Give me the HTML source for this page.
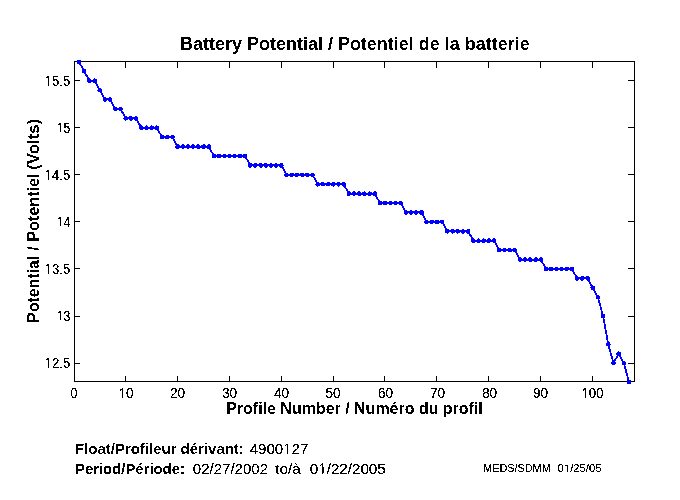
<!DOCTYPE html>
<html><head><meta charset="utf-8"><title>Battery Potential / Potentiel de la batterie</title>
<style>
html,body{margin:0;padding:0;background:#fff;}
body{width:680px;height:500px;overflow:hidden;font-family:"Liberation Sans",sans-serif;}
svg{display:block;font-family:"Liberation Sans",sans-serif;}
.ax rect{fill:#000;stroke:none;shape-rendering:crispEdges;}
text{fill:#000;}
.b{font-weight:bold;}
.h{fill:none;}
.ln{fill:#00f;stroke:none;shape-rendering:crispEdges;}
</style></head><body>
<svg width="680" height="500" viewBox="0 0 680 500">
<defs><filter id="th" x="0" y="0" width="680" height="500" filterUnits="userSpaceOnUse" color-interpolation-filters="sRGB"><feComponentTransfer><feFuncA type="discrete" tableValues="0 0 1 1 1"/></feComponentTransfer></filter>
<filter id="tb" x="0" y="0" width="680" height="500" filterUnits="userSpaceOnUse" color-interpolation-filters="sRGB"><feComponentTransfer><feFuncA type="discrete" tableValues="0 1"/></feComponentTransfer></filter></defs>
<rect x="0" y="0" width="680" height="500" fill="#fff"/>
<g class="ax"><rect x="74" y="376" width="1" height="5"/><rect x="74" y="62" width="1" height="6"/><rect x="125" y="376" width="1" height="5"/><rect x="125" y="62" width="1" height="6"/><rect x="177" y="376" width="1" height="5"/><rect x="177" y="62" width="1" height="6"/><rect x="229" y="376" width="1" height="5"/><rect x="229" y="62" width="1" height="6"/><rect x="281" y="376" width="1" height="5"/><rect x="281" y="62" width="1" height="6"/><rect x="333" y="376" width="1" height="5"/><rect x="333" y="62" width="1" height="6"/><rect x="384" y="376" width="1" height="5"/><rect x="384" y="62" width="1" height="6"/><rect x="436" y="376" width="1" height="5"/><rect x="436" y="62" width="1" height="6"/><rect x="488" y="376" width="1" height="5"/><rect x="488" y="62" width="1" height="6"/><rect x="540" y="376" width="1" height="5"/><rect x="540" y="62" width="1" height="6"/><rect x="592" y="376" width="1" height="5"/><rect x="592" y="62" width="1" height="6"/><rect x="75" y="363" width="5" height="1"/><rect x="628" y="363" width="6" height="1"/><rect x="75" y="316" width="5" height="1"/><rect x="628" y="316" width="6" height="1"/><rect x="75" y="268" width="5" height="1"/><rect x="628" y="268" width="6" height="1"/><rect x="75" y="221" width="5" height="1"/><rect x="628" y="221" width="6" height="1"/><rect x="75" y="174" width="5" height="1"/><rect x="628" y="174" width="6" height="1"/><rect x="75" y="127" width="5" height="1"/><rect x="628" y="127" width="6" height="1"/><rect x="75" y="80" width="5" height="1"/><rect x="628" y="80" width="6" height="1"/><rect x="74" y="61" width="561" height="1"/><rect x="74" y="381" width="561" height="1"/><rect x="74" y="61" width="1" height="321"/><rect x="634" y="61" width="1" height="321"/></g>
<path class="ln" d="M77 60h4v1h-4zM77 61h4v1h-4zM77 62h4v1h-4zM77 63h4v1h-4zM79 64h2v1h-2zM80 65h2v1h-2zM81 66h2v1h-2zM81 67h2v1h-2zM82 68h2v1h-2zM82 69h4v1h-4zM82 70h4v1h-4zM82 71h4v1h-4zM82 72h4v1h-4zM84 73h2v1h-2zM85 74h2v1h-2zM85 75h3v1h-3zM86 76h2v1h-2zM87 77h2v1h-2zM87 78h3v1h-3zM94 78h1v1h-1zM87 79h4v1h-4zM93 79h4v1h-4zM87 80h10v1h-10zM87 81h10v1h-10zM88 82h3v1h-3zM93 82h4v1h-4zM95 83h2v1h-2zM96 84h2v1h-2zM96 85h2v1h-2zM97 86h2v1h-2zM97 87h2v1h-2zM98 88h3v1h-3zM98 89h4v1h-4zM97 90h5v1h-5zM98 91h4v1h-4zM100 92h2v1h-2zM101 93h2v1h-2zM101 94h2v1h-2zM102 95h2v1h-2zM102 96h2v1h-2zM103 97h3v1h-3zM109 97h2v1h-2zM103 98h9v1h-9zM103 99h9v1h-9zM103 100h4v1h-4zM108 100h4v1h-4zM104 101h2v1h-2zM109 101h3v1h-3zM111 102h2v1h-2zM111 103h2v1h-2zM112 104h2v1h-2zM112 105h2v1h-2zM113 106h2v1h-2zM113 107h4v1h-4zM119 107h3v1h-3zM113 108h10v1h-10zM113 109h10v1h-10zM114 110h3v1h-3zM119 110h3v1h-3zM121 111h2v1h-2zM121 112h3v1h-3zM122 113h2v1h-2zM123 114h2v1h-2zM123 115h2v1h-2zM124 116h3v1h-3zM129 116h3v1h-3zM135 116h2v1h-2zM124 117h14v1h-14zM123 118h15v1h-15zM124 119h4v1h-4zM129 119h4v1h-4zM134 119h4v1h-4zM125 120h1v1h-1zM130 120h2v1h-2zM135 120h3v1h-3zM137 121h2v1h-2zM137 122h2v1h-2zM138 123h2v1h-2zM138 124h3v1h-3zM139 125h3v1h-3zM146 125h1v1h-1zM151 125h1v1h-1zM156 125h1v1h-1zM139 126h4v1h-4zM145 126h3v1h-3zM150 126h4v1h-4zM155 126h4v1h-4zM139 127h20v1h-20zM139 128h20v1h-20zM140 129h3v1h-3zM145 129h3v1h-3zM150 129h3v1h-3zM155 129h4v1h-4zM157 130h2v1h-2zM158 131h2v1h-2zM158 132h2v1h-2zM159 133h2v1h-2zM160 134h2v1h-2zM160 135h4v1h-4zM166 135h3v1h-3zM171 135h3v1h-3zM160 136h15v1h-15zM160 137h15v1h-15zM160 138h4v1h-4zM165 138h4v1h-4zM171 138h3v1h-3zM173 139h2v1h-2zM173 140h2v1h-2zM174 141h2v1h-2zM174 142h2v1h-2zM175 143h2v1h-2zM175 144h4v1h-4zM182 144h2v1h-2zM187 144h2v1h-2zM192 144h2v1h-2zM197 144h2v1h-2zM203 144h2v1h-2zM208 144h2v1h-2zM176 145h4v1h-4zM181 145h4v1h-4zM186 145h4v1h-4zM191 145h4v1h-4zM196 145h4v1h-4zM201 145h5v1h-5zM207 145h4v1h-4zM175 146h36v1h-36zM175 147h36v1h-36zM176 148h3v1h-3zM182 148h2v1h-2zM187 148h2v1h-2zM192 148h2v1h-2zM197 148h3v1h-3zM202 148h3v1h-3zM207 148h4v1h-4zM209 149h2v1h-2zM210 150h2v1h-2zM210 151h2v1h-2zM211 152h2v1h-2zM212 153h2v1h-2zM212 154h4v1h-4zM217 154h4v1h-4zM223 154h3v1h-3zM228 154h3v1h-3zM233 154h3v1h-3zM238 154h4v1h-4zM243 154h4v1h-4zM212 155h35v1h-35zM212 156h35v1h-35zM212 157h4v1h-4zM217 157h4v1h-4zM223 157h3v1h-3zM228 157h3v1h-3zM233 157h3v1h-3zM238 157h4v1h-4zM243 157h4v1h-4zM245 158h2v1h-2zM246 159h2v1h-2zM247 160h2v1h-2zM247 161h2v1h-2zM248 162h2v1h-2zM248 163h4v1h-4zM254 163h3v1h-3zM259 163h3v1h-3zM264 163h3v1h-3zM270 163h2v1h-2zM275 163h2v1h-2zM280 163h3v1h-3zM248 164h35v1h-35zM248 165h36v1h-36zM248 166h4v1h-4zM253 166h4v1h-4zM259 166h4v1h-4zM264 166h4v1h-4zM269 166h4v1h-4zM274 166h4v1h-4zM279 166h4v1h-4zM249 167h2v1h-2zM254 167h2v1h-2zM260 167h2v1h-2zM265 167h2v1h-2zM270 167h2v1h-2zM275 167h2v1h-2zM280 167h4v1h-4zM282 168h2v1h-2zM283 169h2v1h-2zM283 170h2v1h-2zM284 171h2v1h-2zM284 172h2v1h-2zM285 173h3v1h-3zM290 173h4v1h-4zM295 173h4v1h-4zM300 173h4v1h-4zM305 173h4v1h-4zM311 173h3v1h-3zM284 174h31v1h-31zM284 175h31v1h-31zM285 176h3v1h-3zM290 176h3v1h-3zM295 176h3v1h-3zM301 176h3v1h-3zM306 176h3v1h-3zM311 176h3v1h-3zM313 177h2v1h-2zM314 178h2v1h-2zM314 179h2v1h-2zM315 180h2v1h-2zM315 181h2v1h-2zM316 182h3v1h-3zM321 182h3v1h-3zM327 182h3v1h-3zM332 182h3v1h-3zM337 182h3v1h-3zM342 182h3v1h-3zM316 183h30v1h-30zM315 184h31v1h-31zM316 185h4v1h-4zM321 185h4v1h-4zM326 185h4v1h-4zM331 185h4v1h-4zM337 185h3v1h-3zM342 185h4v1h-4zM317 186h1v1h-1zM333 186h1v1h-1zM338 186h1v1h-1zM343 186h3v1h-3zM344 187h2v1h-2zM345 188h2v1h-2zM346 189h2v1h-2zM346 190h2v1h-2zM347 191h3v1h-3zM353 191h2v1h-2zM358 191h2v1h-2zM364 191h1v1h-1zM369 191h1v1h-1zM374 191h2v1h-2zM347 192h4v1h-4zM352 192h4v1h-4zM357 192h4v1h-4zM362 192h4v1h-4zM368 192h4v1h-4zM373 192h4v1h-4zM347 193h30v1h-30zM347 194h30v1h-30zM347 195h3v1h-3zM353 195h2v1h-2zM358 195h3v1h-3zM363 195h3v1h-3zM368 195h3v1h-3zM373 195h4v1h-4zM375 196h2v1h-2zM376 197h2v1h-2zM376 198h2v1h-2zM377 199h2v1h-2zM378 200h2v1h-2zM378 201h4v1h-4zM383 201h4v1h-4zM389 201h3v1h-3zM394 201h3v1h-3zM399 201h3v1h-3zM378 202h25v1h-25zM378 203h25v1h-25zM378 204h4v1h-4zM383 204h4v1h-4zM389 204h3v1h-3zM394 204h3v1h-3zM399 204h4v1h-4zM401 205h2v1h-2zM402 206h2v1h-2zM402 207h2v1h-2zM403 208h2v1h-2zM403 209h2v1h-2zM404 210h3v1h-3zM410 210h2v1h-2zM415 210h2v1h-2zM420 210h3v1h-3zM404 211h20v1h-20zM404 212h20v1h-20zM404 213h4v1h-4zM409 213h4v1h-4zM414 213h4v1h-4zM419 213h5v1h-5zM405 214h2v1h-2zM410 214h2v1h-2zM415 214h2v1h-2zM420 214h4v1h-4zM422 215h2v1h-2zM423 216h2v1h-2zM423 217h2v1h-2zM424 218h2v1h-2zM424 219h2v1h-2zM425 220h3v1h-3zM430 220h4v1h-4zM435 220h4v1h-4zM440 220h4v1h-4zM424 221h20v1h-20zM424 222h20v1h-20zM425 223h3v1h-3zM430 223h3v1h-3zM435 223h4v1h-4zM441 223h3v1h-3zM443 224h2v1h-2zM443 225h2v1h-2zM444 226h2v1h-2zM444 227h2v1h-2zM445 228h2v1h-2zM445 229h4v1h-4zM451 229h3v1h-3zM456 229h3v1h-3zM462 229h2v1h-2zM467 229h3v1h-3zM445 230h25v1h-25zM445 231h25v1h-25zM445 232h4v1h-4zM451 232h4v1h-4zM456 232h4v1h-4zM461 232h4v1h-4zM466 232h4v1h-4zM447 233h1v1h-1zM452 233h1v1h-1zM457 233h1v1h-1zM462 233h2v1h-2zM467 233h3v1h-3zM469 234h2v1h-2zM469 235h3v1h-3zM470 236h2v1h-2zM471 237h2v1h-2zM471 238h3v1h-3zM478 238h1v1h-1zM483 238h1v1h-1zM488 238h2v1h-2zM493 238h2v1h-2zM471 239h4v1h-4zM477 239h3v1h-3zM482 239h4v1h-4zM487 239h4v1h-4zM492 239h4v1h-4zM471 240h25v1h-25zM471 241h25v1h-25zM472 242h3v1h-3zM477 242h3v1h-3zM482 242h3v1h-3zM487 242h3v1h-3zM493 242h3v1h-3zM495 243h2v1h-2zM495 244h2v1h-2zM496 245h2v1h-2zM496 246h2v1h-2zM497 247h2v1h-2zM497 248h4v1h-4zM503 248h3v1h-3zM508 248h3v1h-3zM513 248h3v1h-3zM497 249h20v1h-20zM497 250h20v1h-20zM497 251h4v1h-4zM503 251h3v1h-3zM508 251h4v1h-4zM513 251h4v1h-4zM515 252h2v1h-2zM516 253h2v1h-2zM516 254h2v1h-2zM517 255h2v1h-2zM517 256h2v1h-2zM518 257h3v1h-3zM524 257h2v1h-2zM529 257h2v1h-2zM535 257h2v1h-2zM540 257h2v1h-2zM518 258h4v1h-4zM523 258h4v1h-4zM528 258h4v1h-4zM534 258h4v1h-4zM539 258h4v1h-4zM518 259h25v1h-25zM518 260h25v1h-25zM519 261h2v1h-2zM524 261h2v1h-2zM529 261h3v1h-3zM534 261h3v1h-3zM540 261h3v1h-3zM541 262h2v1h-2zM542 263h2v1h-2zM543 264h2v1h-2zM543 265h2v1h-2zM544 266h2v1h-2zM544 267h4v1h-4zM549 267h4v1h-4zM555 267h3v1h-3zM560 267h3v1h-3zM565 267h4v1h-4zM570 267h4v1h-4zM544 268h30v1h-30zM544 269h30v1h-30zM544 270h4v1h-4zM549 270h4v1h-4zM555 270h3v1h-3zM560 270h3v1h-3zM565 270h3v1h-3zM570 270h4v1h-4zM572 271h2v1h-2zM573 272h2v1h-2zM573 273h2v1h-2zM574 274h2v1h-2zM575 275h2v1h-2zM575 276h3v1h-3zM581 276h3v1h-3zM586 276h3v1h-3zM575 277h15v1h-15zM575 278h15v1h-15zM575 279h4v1h-4zM580 279h4v1h-4zM586 279h4v1h-4zM576 280h2v1h-2zM581 280h2v1h-2zM587 280h3v1h-3zM588 281h2v1h-2zM589 282h2v1h-2zM589 283h2v1h-2zM590 284h2v1h-2zM590 285h3v1h-3zM591 286h4v1h-4zM590 287h5v1h-5zM591 288h4v1h-4zM591 289h4v1h-4zM593 290h2v1h-2zM594 291h2v1h-2zM594 292h2v1h-2zM595 293h2v1h-2zM595 294h2v1h-2zM596 295h3v1h-3zM596 296h4v1h-4zM596 297h4v1h-4zM596 298h4v1h-4zM598 299h1v1h-1zM598 300h2v1h-2zM598 301h2v1h-2zM598 302h2v1h-2zM599 303h2v1h-2zM599 304h2v1h-2zM599 305h2v1h-2zM600 306h1v1h-1zM600 307h2v1h-2zM600 308h2v1h-2zM600 309h2v1h-2zM601 310h1v1h-1zM601 311h2v1h-2zM601 312h2v1h-2zM601 313h2v1h-2zM601 314h4v1h-4zM601 315h4v1h-4zM601 316h4v1h-4zM601 317h4v1h-4zM603 318h1v1h-1zM603 319h2v1h-2zM603 320h2v1h-2zM603 321h2v1h-2zM603 322h2v1h-2zM604 323h1v1h-1zM604 324h2v1h-2zM604 325h2v1h-2zM604 326h2v1h-2zM604 327h2v1h-2zM604 328h2v1h-2zM605 329h1v1h-1zM605 330h2v1h-2zM605 331h2v1h-2zM605 332h2v1h-2zM605 333h2v1h-2zM606 334h1v1h-1zM606 335h2v1h-2zM606 336h2v1h-2zM606 337h2v1h-2zM606 338h2v1h-2zM606 339h2v1h-2zM607 340h1v1h-1zM607 341h2v1h-2zM607 342h3v1h-3zM606 343h4v1h-4zM606 344h5v1h-5zM606 345h4v1h-4zM608 346h2v1h-2zM608 347h2v1h-2zM608 348h2v1h-2zM609 349h2v1h-2zM609 350h2v1h-2zM609 351h2v1h-2zM618 351h1v1h-1zM610 352h1v1h-1zM617 352h4v1h-4zM610 353h2v1h-2zM616 353h5v1h-5zM610 354h2v1h-2zM616 354h5v1h-5zM610 355h2v1h-2zM617 355h4v1h-4zM611 356h2v1h-2zM616 356h2v1h-2zM619 356h2v1h-2zM611 357h2v1h-2zM616 357h2v1h-2zM620 357h2v1h-2zM611 358h2v1h-2zM615 358h2v1h-2zM620 358h2v1h-2zM612 359h1v1h-1zM614 359h2v1h-2zM621 359h2v1h-2zM612 360h4v1h-4zM621 360h2v1h-2zM612 361h3v1h-3zM622 361h3v1h-3zM611 362h5v1h-5zM622 362h4v1h-4zM611 363h5v1h-5zM622 363h4v1h-4zM612 364h3v1h-3zM622 364h4v1h-4zM624 365h1v1h-1zM624 366h2v1h-2zM624 367h2v1h-2zM624 368h2v1h-2zM625 369h2v1h-2zM625 370h2v1h-2zM625 371h2v1h-2zM625 372h2v1h-2zM626 373h2v1h-2zM626 374h2v1h-2zM626 375h2v1h-2zM627 376h1v1h-1zM627 377h2v1h-2zM627 378h2v1h-2zM627 379h2v1h-2zM627 380h4v1h-4zM627 381h4v1h-4zM627 382h4v1h-4zM627 383h4v1h-4z"/>
<g filter="url(#th)">
<text transform="translate(74.10 398.00) translate(-3.50 0) scale(0.8990 1)" font-size="14">0</text><text transform="translate(126.10 398.00) translate(-7.60 0) scale(0.9761 1)" font-size="14"><tspan class="h">1</tspan>0</text><path transform="translate(126.10 398.00) translate(-7.60 0) scale(0.9761 1) translate(0.000 0) scale(0.006836 -0.006836)" d="M515 0V1237L197 1010V1180L530 1409H696V0Z"/><text transform="translate(177.50 398.00) translate(-7.60 0) scale(0.9761 1)" font-size="14">20</text><text transform="translate(229.50 398.00) translate(-7.60 0) scale(0.9761 1)" font-size="14">30</text><text transform="translate(281.50 398.00) translate(-7.60 0) scale(0.9761 1)" font-size="14">40</text><text transform="translate(333.10 398.00) translate(-7.60 0) scale(0.9761 1)" font-size="14">50</text><text transform="translate(385.50 398.00) translate(-7.60 0) scale(0.9761 1)" font-size="14">60</text><text transform="translate(437.50 398.00) translate(-7.60 0) scale(0.9761 1)" font-size="14">70</text><text transform="translate(489.50 398.00) translate(-7.60 0) scale(0.9761 1)" font-size="14">80</text><text transform="translate(540.50 398.00) translate(-7.60 0) scale(0.9761 1)" font-size="14">90</text><text transform="translate(592.50 398.00) translate(-11.00 0) scale(0.9418 1)" font-size="14"><tspan class="h">1</tspan>00</text><path transform="translate(592.50 398.00) translate(-11.00 0) scale(0.9418 1) translate(0.000 0) scale(0.006836 -0.006836)" d="M515 0V1237L197 1010V1180L530 1409H696V0Z"/><text transform="translate(70.30 367.60) translate(-25.60 0) scale(0.9395 1)" font-size="14"><tspan class="h">1</tspan>2.5</text><path transform="translate(70.30 367.60) translate(-25.60 0) scale(0.9395 1) translate(0.000 0) scale(0.006836 -0.006836)" d="M515 0V1237L197 1010V1180L530 1409H696V0Z"/><text transform="translate(70.30 320.60) translate(-13.70 0) scale(0.8798 1)" font-size="14"><tspan class="h">1</tspan>3</text><path transform="translate(70.30 320.60) translate(-13.70 0) scale(0.8798 1) translate(0.000 0) scale(0.006836 -0.006836)" d="M515 0V1237L197 1010V1180L530 1409H696V0Z"/><text transform="translate(70.30 273.60) translate(-25.60 0) scale(0.9395 1)" font-size="14"><tspan class="h">1</tspan>3.5</text><path transform="translate(70.30 273.60) translate(-25.60 0) scale(0.9395 1) translate(0.000 0) scale(0.006836 -0.006836)" d="M515 0V1237L197 1010V1180L530 1409H696V0Z"/><text transform="translate(70.30 226.60) translate(-13.70 0) scale(0.8798 1)" font-size="14"><tspan class="h">1</tspan>4</text><path transform="translate(70.30 226.60) translate(-13.70 0) scale(0.8798 1) translate(0.000 0) scale(0.006836 -0.006836)" d="M515 0V1237L197 1010V1180L530 1409H696V0Z"/><text transform="translate(70.30 179.60) translate(-25.60 0) scale(0.9395 1)" font-size="14"><tspan class="h">1</tspan>4.5</text><path transform="translate(70.30 179.60) translate(-25.60 0) scale(0.9395 1) translate(0.000 0) scale(0.006836 -0.006836)" d="M515 0V1237L197 1010V1180L530 1409H696V0Z"/><text transform="translate(70.30 132.60) translate(-13.70 0) scale(0.8798 1)" font-size="14"><tspan class="h">1</tspan>5</text><path transform="translate(70.30 132.60) translate(-13.70 0) scale(0.8798 1) translate(0.000 0) scale(0.006836 -0.006836)" d="M515 0V1237L197 1010V1180L530 1409H696V0Z"/><text transform="translate(70.30 85.60) translate(-25.60 0) scale(0.9395 1)" font-size="14"><tspan class="h">1</tspan>5.5</text><path transform="translate(70.30 85.60) translate(-25.60 0) scale(0.9395 1) translate(0.000 0) scale(0.006836 -0.006836)" d="M515 0V1237L197 1010V1180L530 1409H696V0Z"/><text transform="translate(249.70 453.90) translate(0.00 0) scale(1.0261 1)" font-size="14.67">4900<tspan class="h">1</tspan>27</text><path transform="translate(249.70 453.90) translate(0.00 0) scale(1.0261 1) translate(32.635 0) scale(0.007163 -0.007163)" d="M515 0V1237L197 1010V1180L530 1409H696V0Z"/><text transform="translate(192.80 473.70) translate(0.00 0) scale(1.0256 1)" font-size="14.67">02/27/2002</text><text transform="translate(275.20 473.70) translate(0.00 0) scale(1.0462 1)" font-size="14.67">to/à</text><text transform="translate(309.80 473.70) translate(0.00 0) scale(1.0351 1)" font-size="14.67">0<tspan class="h">1</tspan>/22/2005</text><path transform="translate(309.80 473.70) translate(0.00 0) scale(1.0351 1) translate(8.159 0) scale(0.007163 -0.007163)" d="M515 0V1237L197 1010V1180L530 1409H696V0Z"/><text transform="translate(483.20 472.00) translate(0.00 0) scale(1.0182 1)" font-size="10.67">MEDS/SDMM</text><text transform="translate(557.60 472.00) translate(0.00 0) scale(1.0594 1)" font-size="10.67">0<tspan class="h">1</tspan>/25/05</text><path transform="translate(557.60 472.00) translate(0.00 0) scale(1.0594 1) translate(5.934 0) scale(0.005210 -0.005210)" d="M515 0V1237L197 1010V1180L530 1409H696V0Z"/>
</g>
<g filter="url(#tb)">
<text class="b" transform="translate(355.00 49.50) translate(-174.90 0) scale(1.0219 1)" font-size="17.6">Battery Potential / Potentiel de la batterie</text><text class="b" transform="translate(354.60 414.20) translate(-128.40 0) scale(0.9996 1)" font-size="16">Profile Number / Numéro du profil</text><text class="b" transform="translate(39.00 322.70) rotate(-90) translate(0.00 0) scale(0.9917 1)" font-size="16">Potential</text><text class="b" transform="translate(39.00 250.80) rotate(-90) translate(0.00 0) scale(1.0124 1)" font-size="16">/ Potentiel</text><text class="b" transform="translate(39.00 169.80) rotate(-90) translate(0.00 0) scale(1.0497 1)" font-size="16">(Volts)</text><text class="b" transform="translate(75.00 453.70) translate(0.00 0) scale(1.0213 1)" font-size="14.67">Float/Profileur dérivant:</text><text class="b" transform="translate(75.00 473.70) translate(0.00 0) scale(1.0146 1)" font-size="14.67">Period/Période:</text>
</g>
</svg>
</body></html>
